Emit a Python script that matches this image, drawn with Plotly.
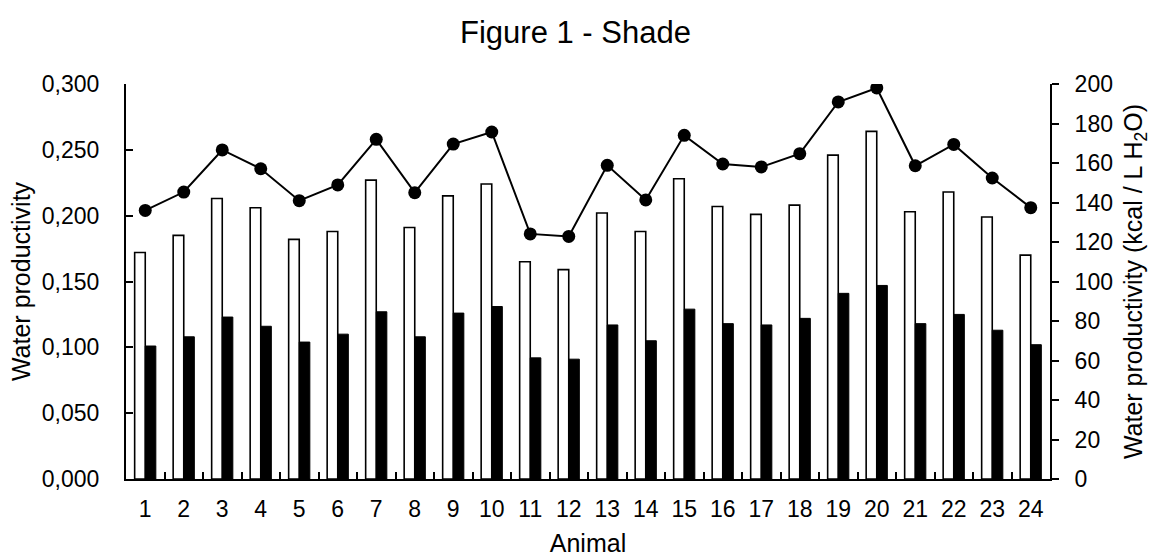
import plotly.graph_objects as go

# Animals on the x axis
animals = [str(i) for i in range(1, 25)]

# Water productivity, left axis (white and black bars)
wp_white = [0.172, 0.185, 0.213, 0.206, 0.182, 0.188, 0.227, 0.191, 0.215, 0.224,
            0.165, 0.159, 0.202, 0.188, 0.228, 0.207, 0.201, 0.208, 0.246, 0.264,
            0.203, 0.218, 0.199, 0.170]
wp_black = [0.101, 0.108, 0.123, 0.116, 0.104, 0.110, 0.127, 0.108, 0.126, 0.131,
            0.092, 0.091, 0.117, 0.105, 0.129, 0.118, 0.117, 0.122, 0.141, 0.147,
            0.118, 0.125, 0.113, 0.102]

# Water productivity in kcal / L H2O, right axis (line)
wp_kcal = [136.0, 145.3, 166.6, 157.1, 140.9, 148.9, 172.0, 145.0, 169.6, 175.7,
           124.1, 122.8, 158.8, 141.3, 174.0, 159.5, 158.0, 164.7, 190.9, 198.0,
           158.6, 169.4, 152.4, 137.4]

FONT = "Arial, Liberation Sans, sans-serif"

fig = go.Figure()

fig.add_trace(go.Bar(
    x=animals, y=wp_white, name="white",
    marker=dict(color="white", line=dict(color="black", width=1.6)),
))
fig.add_trace(go.Bar(
    x=animals, y=wp_black, name="black",
    marker=dict(color="black", line=dict(color="black", width=1)),
))
fig.add_trace(go.Scatter(
    x=animals, y=wp_kcal, yaxis="y2", mode="lines+markers", name="kcal",
    line=dict(color="black", width=2),
    marker=dict(color="black", size=13),
))

fig.update_layout(
    width=1151, height=557,
    margin=dict(l=126, r=101, t=84, b=78, autoexpand=False),
    paper_bgcolor="white", plot_bgcolor="white",
    separators=",.",
    showlegend=False,
    barmode="group", bargap=0.45, bargroupgap=0,
    font=dict(family=FONT, color="black", size=23),
    title=dict(text="Figure 1 - Shade", x=0.5, xanchor="center",
               y=1 - 32 / 557, yanchor="middle", yref="container",
               font=dict(family=FONT, size=31, color="black")),
    xaxis=dict(
        type="category", range=[-0.5, 23.5], automargin=False,
        showline=True, linecolor="black", linewidth=2,
        ticks="inside", tickson="boundaries", ticklen=7, tickwidth=2, tickcolor="black",
        ticklabelstandoff=8,
        tickfont=dict(size=23),
        title=dict(text="Animal", font=dict(size=25), standoff=18),
        showgrid=False, zeroline=False,
    ),
    yaxis=dict(
        range=[0, 0.3], tick0=0, dtick=0.05, tickformat=".3f", automargin=False,
        showline=True, linecolor="black", linewidth=2,
        ticks="inside", ticklen=7, tickwidth=2, tickcolor="black",
        ticklabelstandoff=20,
        tickfont=dict(size=23),
        title=dict(text="Water productivity", font=dict(size=25), standoff=4),
        showgrid=False, zeroline=False,
    ),
    yaxis2=dict(
        overlaying="y", side="right", automargin=False,
        range=[0, 200], tick0=0, dtick=20,
        showline=True, linecolor="black", linewidth=2,
        ticks="outside", ticklen=7, tickwidth=2, tickcolor="black",
        ticklabelstandoff=11,
        tickfont=dict(size=23),
        title=dict(text="Water productivity (kcal / L H<sub>2</sub>O)",
                   font=dict(size=25), standoff=16),
        showgrid=False, zeroline=False,
    ),
)

fig.write_html("out.html")
